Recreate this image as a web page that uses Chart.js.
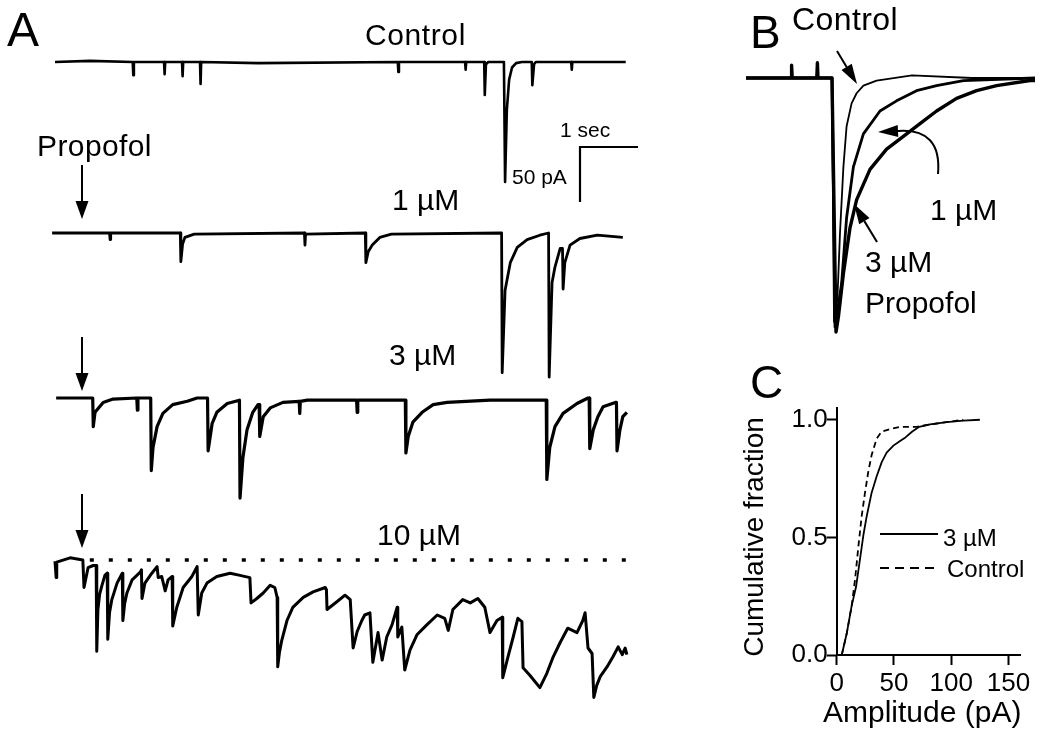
<!DOCTYPE html>
<html>
<head>
<meta charset="utf-8">
<script src="https://cdn.jsdelivr.net/npm/chart.js@4.4.1/dist/chart.umd.min.js"></script>
<style>
html, body { margin: 0; padding: 0; background: #fff; }
#fig { position: relative; width: 1050px; height: 740px; overflow: hidden;
       font-family: Arial, "Liberation Sans", Helvetica, sans-serif; color: #000; }
#fig canvas { position: absolute; left: 0; top: 0; }
.lbl { position: absolute; white-space: nowrap; line-height: 1; }
</style>
</head>
<body>
<div id="fig">
    <canvas id="panelA" width="1050" height="740"></canvas>
    <canvas id="panelB" width="1050" height="740"></canvas>
    <canvas id="panelC" width="1050" height="740"></canvas>
</div>
<script>
// ---- data: panel A traces, [time (s), current (pA)] ----
const controlTrace = [
    [0, 0], [0.6, 1], [1.34, 0], [1.35, -12], [1.36, 0], [1.88, 0], [1.89, -11], [1.90, 0],
    [2.19, 0], [2.20, -13], [2.21, 0], [2.50, 0], [2.51, -20], [2.52, 0], [3.5, -1],
    [5.91, 0], [5.92, -9], [5.93, 0], [7.07, 0], [7.08, -7], [7.09, 0],
    [7.40, 0], [7.41, -30], [7.43, -2], [7.47, 0], [7.74, 0], [7.76, -109], [7.79, -44],
    [7.83, -16], [7.88, -5], [7.95, -1], [8.05, 0], [8.22, 0], [8.23, -21], [8.26, -2],
    [8.29, 0], [8.90, 0], [8.91, -7], [8.92, 0], [9.84, 0]
];
const trace1uM = [
    [-0.05, 0], [0.94, 0], [0.95, -6], [0.96, 0], [2.16, 0], [2.17, -26], [2.20, -10],
    [2.24, -4], [2.40, -1], [4.30, 0], [4.31, -11], [4.32, -1], [5.35, 0], [5.36, -27],
    [5.40, -17], [5.47, -11], [5.60, -4], [5.80, -1], [7.70, 0], [7.71, -127], [7.76, -52],
    [7.85, -27], [7.97, -13], [8.14, -6], [8.36, -2], [8.51, 0], [8.52, -131], [8.57, -45],
    [8.62, -31], [8.71, -14], [8.75, -14], [8.76, -51], [8.79, -27], [8.88, -11],
    [9.05, -5], [9.35, -2], [9.79, -4]
];
const trace3uM = [
    [0.02, 0], [0.65, 0], [0.66, -26], [0.69, -13], [0.83, -4], [1.0, -1], [1.41, 0],
    [1.42, -11], [1.43, 0], [1.65, 0], [1.66, -66], [1.69, -45], [1.76, -26], [1.86, -14],
    [2.03, -6], [2.28, -3], [2.45, 0], [2.63, 0], [2.64, -48], [2.71, -23], [2.79, -13],
    [2.97, -5], [3.18, -2], [3.19, -91], [3.24, -54], [3.31, -29], [3.41, -13], [3.50, -6],
    [3.52, -6], [3.53, -35], [3.59, -17], [3.71, -9], [3.93, -4], [4.21, -3], [4.22, -14],
    [4.23, -3], [4.35, -2], [5.20, -2], [5.21, -13], [5.22, -2], [6.04, -2], [6.05, -50],
    [6.09, -35], [6.17, -22], [6.33, -13], [6.52, -6], [6.76, -4], [7.5, -2], [8.47, -2],
    [8.48, -74], [8.53, -45], [8.62, -26], [8.76, -14], [9.0, -5], [9.19, 0], [9.21, 0],
    [9.22, -46], [9.28, -29], [9.36, -17], [9.45, -8], [9.66, -4], [9.68, -4], [9.69, -48],
    [9.74, -29], [9.79, -17], [9.86, -13]
];
const trace10uM = [
    [0, -1], [0.02, -16], [0.03, -2], [0.26, 2], [0.48, 0], [0.50, -25], [0.57, -7],
    [0.66, -5], [0.71, -5], [0.72, -83], [0.74, -45], [0.77, -31], [0.81, -23], [0.86, -14], [0.90, -12],
    [0.91, -72], [0.94, -48], [0.98, -36], [1.07, -21], [1.16, -12], [1.17, -55], [1.20, -40], [1.24, -30], [1.33, -18],
    [1.47, -11], [1.49, -9], [1.50, -35], [1.55, -21], [1.67, -12], [1.76, -6], [1.78, -16],
    [1.84, -15], [1.90, -28], [1.95, -18], [2.02, -15], [2.03, -60], [2.10, -43], [2.21, -25],
    [2.36, -15], [2.45, -6], [2.47, -50], [2.53, -30], [2.62, -21], [2.79, -15], [3.02, -12],
    [3.19, -14], [3.36, -16], [3.38, -39], [3.48, -35], [3.59, -30], [3.71, -23], [3.79, -25],
    [3.83, -34], [3.84, -97], [3.87, -84], [3.91, -73], [4.00, -55], [4.10, -43], [4.28, -34], [4.45, -29],
    [4.66, -25], [4.68, -27], [4.69, -45], [4.86, -38], [5.00, -32], [5.09, -36], [5.14, -80],
    [5.21, -65], [5.29, -55], [5.34, -50], [5.43, -48], [5.48, -93], [5.57, -66], [5.64, -91],
    [5.72, -70], [5.81, -59], [5.90, -43], [5.91, -70], [5.98, -61], [6.03, -100], [6.12, -82],
    [6.24, -68], [6.41, -59], [6.59, -50], [6.72, -53], [6.78, -64], [6.86, -45], [7.03, -36],
    [7.16, -39], [7.29, -35], [7.41, -43], [7.50, -66], [7.62, -55], [7.71, -52], [7.72, -107],
    [7.81, -88], [7.90, -70], [7.98, -53], [8.05, -56], [8.07, -98], [8.19, -105], [8.36, -116],
    [8.48, -103], [8.59, -88], [8.71, -75], [8.84, -62], [9.00, -66], [9.10, -55], [9.14, -48],
    [9.19, -80], [9.26, -85], [9.29, -125], [9.34, -114], [9.40, -106], [9.52, -97], [9.62, -88], [9.71, -79],
    [9.78, -86], [9.83, -80], [9.86, -86]
];
const baselineRefSpan = [0.6, 9.95];   // dotted pre-drug level under 10 uM (s)
const SCALE_SEC = 1;
const SCALE_PA = 50;

// ---- data: panel B averaged events, [time (ms), normalised current] ----
const avgControl = [
    [-43, 0], [0, 0], [1, -0.96], [2.7, -0.87], [4, -0.61],
    [5.7, -0.35], [7.3, -0.19], [9.8, -0.10], [12.3, -0.06], [15.7, -0.03], [22.3, -0.01],
    [40, 0.01], [70, 0], [101.5, 0]
];
const avg1uM = [
    [-43, 0], [0, 0], [1.5, -0.98], [4.8, -0.81], [7.3, -0.55], [10.7, -0.35], [15.7, -0.22],
    [24, -0.13], [32.3, -0.09], [42.3, -0.05], [52.3, -0.03], [65.7, -0.01], [101.5, 0]
];
const avg3uM = [
    [-43, 0], [-20.5, 0], [-20.2, 0.05], [-19.9, 0], [-7.6, 0], [-7.3, 0.06], [-7, 0], [0, 0], [2, -1.0],
    [3.2, -0.94], [5.7, -0.77], [9, -0.59], [12.3, -0.48], [19, -0.36], [27.3, -0.28],
    [35.7, -0.23], [44, -0.18], [52.3, -0.13], [62.3, -0.08], [72.3, -0.05], [82.3, -0.03],
    [99, -0.01], [101.5, -0.01]
];

// ---- data: panel C cumulative distributions, [amplitude (pA), fraction] ----
const cum3uM = [
    [4.4, 0], [8.7, 0.09], [13.1, 0.21], [16.9, 0.29], [20.4, 0.41], [23.3, 0.51], [26.2, 0.59],
    [30.5, 0.69], [34.9, 0.76], [39.3, 0.82], [43.6, 0.86], [49.5, 0.89], [55.3, 0.91],
    [60, 0.925], [66, 0.95], [72, 0.97], [81.5, 0.98], [96, 0.99], [110.5, 0.996], [125, 1.0]
];
const cumControl = [
    [4.4, 0], [8.7, 0.09], [13.1, 0.21], [16, 0.32], [18.9, 0.46], [21.8, 0.59], [24.7, 0.69],
    [27.6, 0.78], [30.5, 0.85], [34.9, 0.92], [39.3, 0.95], [46.5, 0.96], [55.3, 0.97],
    [69.8, 0.97], [81.5, 0.98], [96, 0.99], [110.5, 1.0]
];
const ampTicks = [0, 50, 100, 150];
const fracTicks = [0, 0.5, 1.0];

// ---- layout ----
const W = 1050, H = 740;
const FONT = 'Arial, "Liberation Sans", Helvetica, sans-serif';
const A_PX_PER_SEC = 58, A_PX_PER_PA = 1.1, A_T0_PX = 55;
const A_BASE_PX = { control: 62, uM1: 233, uM3: 398, uM10: 560 };
const B_ONSET_PX = 832, B_PX_PER_MS = 2, B_BASE_PX = 78, B_PEAK_PX = 254;

function drawArrow(ctx, x1, y1, x2, y2, headLen, headW) {
    const ang = Math.atan2(y2 - y1, x2 - x1);
    const bx = x2 - headLen * Math.cos(ang), by = y2 - headLen * Math.sin(ang);
    ctx.beginPath();
    ctx.moveTo(x1, y1);
    ctx.lineTo(bx, by);
    ctx.stroke();
    ctx.beginPath();
    ctx.moveTo(x2, y2);
    ctx.lineTo(bx + headW / 2 * Math.sin(ang), by - headW / 2 * Math.cos(ang));
    ctx.lineTo(bx - headW / 2 * Math.sin(ang), by + headW / 2 * Math.cos(ang));
    ctx.closePath();
    ctx.fill();
}

function traceSet(data, width, extra) {
    return Object.assign({
        data: data,
        borderColor: '#000',
        borderWidth: width,
        pointRadius: 0,
        tension: 0,
        fill: false,
        borderJoinStyle: 'round'
    }, extra || {});
}

class FigureRenderer {
    constructor() {
        this.fig = document.getElementById('fig');
        this.renderPanelA();
        this.renderPanelB();
        this.renderPanelC();
        this.placeLabels();
    }

    // traces are stacked by shifting each one to its baseline row
    shifted(arr, basePx) {
        const off = basePx / A_PX_PER_PA;
        return arr.map(([t, i]) => ({ x: t, y: i - off }));
    }

    renderPanelA() {
        const xMin = -A_T0_PX / A_PX_PER_SEC;
        const cornerT = (580 - A_T0_PX) / A_PX_PER_SEC;
        const cornerV = -147 / A_PX_PER_PA;
        const refOff = A_BASE_PX.uM10 / A_PX_PER_PA;

        const arrows = {
            id: 'arrowsA',
            afterDraw(chart) {
                const ctx = chart.ctx;
                ctx.save();
                ctx.strokeStyle = '#000';
                ctx.fillStyle = '#000';
                ctx.lineWidth = 2;
                drawArrow(ctx, 82, 165, 82, 219, 18, 13);
                drawArrow(ctx, 82, 337, 82, 391, 18, 13);
                drawArrow(ctx, 82, 494, 82, 548, 18, 13);
                ctx.restore();
            }
        };

        new Chart(document.getElementById('panelA'), {
            type: 'line',
            data: {
                datasets: [
                    traceSet(this.shifted(controlTrace, A_BASE_PX.control), 2.6),
                    traceSet(this.shifted(trace1uM, A_BASE_PX.uM1), 2.8),
                    traceSet(this.shifted(trace3uM, A_BASE_PX.uM3), 3.2),
                    traceSet(this.shifted(trace10uM, A_BASE_PX.uM10), 3.0),
                    traceSet(baselineRefSpan.map(t => ({ x: t, y: -refOff })), 3.5,
                        { borderDash: [4, 15], borderJoinStyle: 'miter' }),
                    traceSet([
                        { x: cornerT + SCALE_SEC, y: cornerV },
                        { x: cornerT, y: cornerV },
                        { x: cornerT, y: cornerV - SCALE_PA }
                    ], 2.2, { borderJoinStyle: 'miter' })
                ]
            },
            options: {
                responsive: false,
                animation: false,
                events: [],
                layout: { padding: 0 },
                plugins: { legend: { display: false }, tooltip: { enabled: false } },
                scales: {
                    x: { type: 'linear', display: false, min: xMin, max: xMin + W / A_PX_PER_SEC },
                    y: { type: 'linear', display: false, min: -H / A_PX_PER_PA, max: 0 }
                }
            },
            plugins: [arrows]
        });
    }

    renderPanelB() {
        const left = 740, top = 40, bottom = 340;
        const arrows = {
            id: 'arrowsB',
            afterDraw(chart) {
                const ctx = chart.ctx;
                ctx.save();
                ctx.strokeStyle = '#000';
                ctx.fillStyle = '#000';
                ctx.lineWidth = 2;
                drawArrow(ctx, 837, 51, 857, 84, 20, 12);
                drawArrow(ctx, 877, 242, 854, 204, 20, 12);
                // curved arrow from the 1 uM label
                ctx.beginPath();
                ctx.moveTo(938, 174);
                ctx.quadraticCurveTo(942, 128, 898, 131);
                ctx.stroke();
                drawArrow(ctx, 899, 131, 878, 132, 20, 12);
                ctx.restore();
            }
        };

        new Chart(document.getElementById('panelB'), {
            type: 'line',
            data: {
                datasets: [
                    traceSet(avg3uM.map(([t, v]) => ({ x: t, y: v })), 3.4),
                    traceSet(avg1uM.map(([t, v]) => ({ x: t, y: v })), 2.8),
                    traceSet(avgControl.map(([t, v]) => ({ x: t, y: v })), 1.8)
                ]
            },
            options: {
                responsive: false,
                animation: false,
                events: [],
                layout: { padding: { left: left, top: top, right: 0, bottom: H - bottom } },
                plugins: { legend: { display: false }, tooltip: { enabled: false } },
                scales: {
                    x: {
                        type: 'linear', display: false,
                        min: (left - B_ONSET_PX) / B_PX_PER_MS,
                        max: (W - B_ONSET_PX) / B_PX_PER_MS
                    },
                    y: {
                        type: 'linear', display: false,
                        min: (B_BASE_PX - bottom) / B_PEAK_PX,
                        max: (B_BASE_PX - top) / B_PEAK_PX
                    }
                }
            },
            plugins: [arrows]
        });
    }

    renderPanelC() {
        const legendLines = {
            id: 'legendC',
            afterDraw(chart) {
                const ctx = chart.ctx;
                ctx.save();
                ctx.strokeStyle = '#000';
                ctx.lineWidth = 2;
                ctx.beginPath();
                ctx.moveTo(880, 534);
                ctx.lineTo(938, 534);
                ctx.stroke();
                ctx.setLineDash([9, 6]);
                ctx.beginPath();
                ctx.moveTo(880, 568);
                ctx.lineTo(938, 568);
                ctx.stroke();
                ctx.restore();
            }
        };
        const axisStyle = {
            grid: { display: true, drawOnChartArea: false, drawTicks: true, tickLength: 10,
                    tickWidth: 2, tickColor: '#000' },
            border: { display: true, color: '#000', width: 2 }
        };

        new Chart(document.getElementById('panelC'), {
            type: 'line',
            data: {
                datasets: [
                    traceSet(cum3uM.map(([a, f]) => ({ x: a, y: f })), 1.8),
                    traceSet(cumControl.map(([a, f]) => ({ x: a, y: f })), 1.8,
                        { borderDash: [6, 4] })
                ]
            },
            options: {
                responsive: false,
                animation: false,
                events: [],
                layout: { padding: { left: 735, top: 408, right: 30, bottom: 0 } },
                plugins: { legend: { display: false }, tooltip: { enabled: false } },
                scales: {
                    x: Object.assign({
                        type: 'linear', min: 0, max: 160,
                        afterFit: s => { s.height = 85; },
                        afterBuildTicks: s => { s.ticks = ampTicks.map(v => ({ value: v })); },
                        ticks: { color: '#000', font: { size: 26, family: FONT }, padding: 3,
                                 maxRotation: 0, autoSkip: false }
                    }, axisStyle),
                    y: Object.assign({
                        type: 'linear', min: 0, max: 1.05,
                        afterFit: s => { s.width = 101.7; },
                        afterBuildTicks: s => { s.ticks = fracTicks.map(v => ({ value: v })); },
                        ticks: { color: '#000', font: { size: 26, family: FONT }, padding: -1,
                                 autoSkip: false, callback: v => v.toFixed(1) }
                    }, axisStyle)
                }
            },
            plugins: [legendLines]
        });
    }

    // text placed by its baseline, Liberation Sans ascent ~0.8465 em at line-height 1
    addLabel(text, size, left, baseline) {
        const el = document.createElement('div');
        el.className = 'lbl';
        el.textContent = text;
        el.style.fontSize = size + 'px';
        el.style.left = left + 'px';
        el.style.top = (baseline - 0.8465 * size) + 'px';
        this.fig.appendChild(el);
        return el;
    }

    placeLabels() {
        this.addLabel('A', 48, 7, 47);
        this.addLabel('Control', 30, 365, 45).style.letterSpacing = '0.6px';
        this.addLabel('Propofol', 30, 37, 156).style.letterSpacing = '0.4px';
        this.addLabel('1 \u00b5M', 30, 392, 210);
        this.addLabel('3 \u00b5M', 30, 389, 365);
        this.addLabel('10 \u00b5M', 30, 377, 545);
        this.addLabel('1 sec', 21, 560, 137);
        this.addLabel('50 pA', 21, 512, 184);

        this.addLabel('B', 46, 750, 48);
        this.addLabel('Control', 32, 792, 30).style.letterSpacing = '0.4px';
        this.addLabel('1 \u00b5M', 30, 930, 220);
        this.addLabel('3 \u00b5M', 30, 865, 272);
        this.addLabel('Propofol', 30, 865, 313);

        this.addLabel('C', 46, 750, 398);
        this.addLabel('3 \u00b5M', 24, 943, 546);
        this.addLabel('Control', 24, 947, 577);
        this.addLabel('Amplitude (pA)', 30, 823, 722);

        const yTitle = document.createElement('div');
        yTitle.className = 'lbl';
        yTitle.textContent = 'Cumulative fraction';
        yTitle.style.fontSize = '28px';
        yTitle.style.left = '754px';
        yTitle.style.top = '537px';
        yTitle.style.transform = 'translate(-50%, -50%) rotate(-90deg)';
        this.fig.appendChild(yTitle);
    }
}

document.addEventListener('DOMContentLoaded', () => new FigureRenderer());
</script>
</body>
</html>
